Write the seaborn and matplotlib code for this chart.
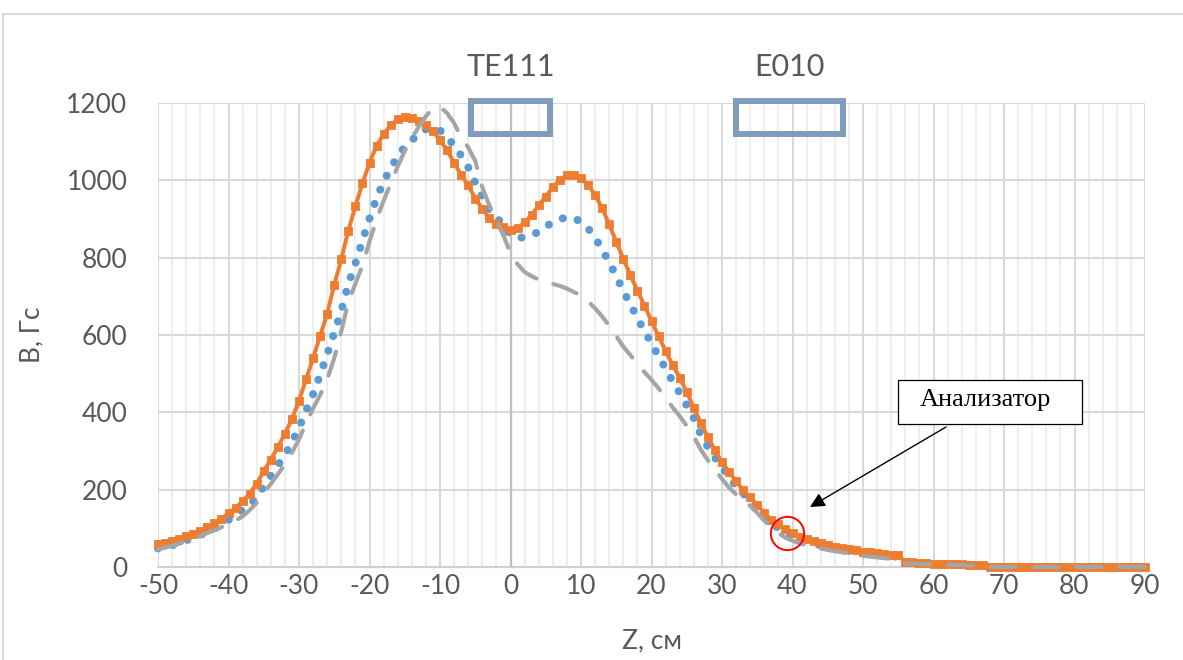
import matplotlib
matplotlib.use("Agg")
import matplotlib.pyplot as plt
import seaborn as sns
import pandas as pd
from matplotlib.patches import Rectangle

# ---------------- data ----------------
z_cm = list(range(-50, 91))

orange_vals = [
    59, 63, 68, 73, 79, 86, 94, 103, 113, 125,
    139, 153, 170, 190, 215, 248, 278, 310, 345, 383,
    430, 485, 540, 598, 655, 730, 796, 870, 933, 992,
    1046, 1089, 1119, 1143, 1158, 1164, 1161, 1154, 1143, 1127,
    1104, 1078, 1046, 1014, 987, 953, 926, 902, 886, 879,
    871, 877, 891, 911, 935, 958, 982, 1002, 1013, 1014,
    1005, 988, 962, 928, 886, 841, 797, 755, 715, 676,
    636, 597, 559, 522, 490, 452, 412, 372, 336, 302,
    271, 246, 222, 198, 180, 160, 140, 122, 110, 97,
    87, 78, 72, 66, 61, 57, 53, 50, 46, 43,
    40, 38, 36, 34, 32, 30,
    13, 12, 11, 10, 9, 8, 8, 7, 7, 6, 6, 5,
] + [0] * 23

blue_vals = [
    48, 51, 56, 62, 69, 76, 83, 90, 99, 110,
    122, 135, 148, 160, 180, 209, 236, 263, 290, 322,
    360, 405, 447, 497, 550, 606, 662, 732, 785, 844,
    901, 954, 996, 1032, 1062, 1087, 1104, 1120, 1132, 1134,
    1129, 1112, 1090, 1064, 1034, 994, 957, 922, 902, 888,
    857, 852, 852, 858, 867, 880, 892, 900, 904, 902,
    893, 876, 851, 822, 787, 753, 713, 680, 643, 611,
    578, 545, 513, 480, 450, 418, 385, 342, 310, 283,
    258, 233, 208, 190, 172, 150, 128, 112, 101, 90,
    81, 74, 67, 61, 56, 52, 48, 45, 42, 39,
    36, 34, 32, 30, 28, 26,
    11, 10, 9, 9, 8, 7, 7, 6, 6, 5, 5, 4,
] + [0] * 23

gray_vals = [
    46, 50, 55, 60, 67, 73, 80, 88, 95, 103,
    111, 120, 131, 147, 166, 192, 215, 240, 265, 296,
    330, 372, 410, 445, 485, 540, 610, 685, 733, 780,
    842, 899, 947, 992, 1036, 1076, 1108, 1139, 1166, 1186,
    1190, 1174, 1148, 1112, 1085, 1050, 982, 935, 895, 858,
    811, 783, 763, 752, 743, 737, 732, 727, 720, 711,
    702, 687, 669, 648, 624, 597, 570, 548, 525, 504,
    484, 462, 438, 413, 390, 365, 338, 303, 276, 251,
    228, 205, 188, 172, 158, 140, 120, 103, 88, 76,
    68, 62, 56, 52, 48, 44, 41, 38, 35, 32,
    29, 27, 25, 23, 21, 19,
    9, 8, 8, 7, 7, 6, 6, 5, 5, 4, 4, 4,
] + [0] * 23

x_ticks = list(range(-50, 91, 10))
y_ticks = list(range(0, 1201, 200))

# mode boxes (labels, z-ranges)
mode_labels = ["TE111", "E010"]
mode_z0 = [-5.56, 32.0]
mode_z1 = [5.56, 47.2]
mode_b0, mode_b1 = 1120, 1206

analyzer_label = "Анализатор"
analyzer_z, analyzer_b = 39.26, 87

df = pd.DataFrame({"z": z_cm, "orange": orange_vals, "blue": blue_vals, "gray": gray_vals})

# ---------------- style ----------------
sns.set_theme(style="white")
plt.rcParams["font.family"] = ["Lato", "DejaVu Sans"]
plt.rcParams["axes.unicode_minus"] = False

W, H = 1183, 660
fig = plt.figure(figsize=(W / 100, H / 100), dpi=100)
ax = fig.add_axes([158 / W, 1 - 567 / H, (1145 - 158) / W, (567 - 103) / H])

txt_col = "#595959"

# grid
for v in range(-50, 91, 2):
    if v % 10 != 0:
        ax.axvline(v, color="#EDEDED", lw=1.3, zorder=0)
for v in x_ticks:
    ax.axvline(v, color="#D9D9D9", lw=1.5, zorder=0.5)
for v in y_ticks[1:]:
    ax.axhline(v, color="#D9D9D9", lw=1.5, zorder=0.5)
ax.axhline(0, color="#D0D0D0", lw=1.6, zorder=0.6, clip_on=False)
ax.axvline(0, color="#BFBFBF", lw=1.6, zorder=0.6)

# series
sns.lineplot(data=df, x="z", y="blue", ax=ax, color="#5B9BD5", zorder=2)
ln_blue = ax.lines[-1]
sns.lineplot(data=df, x="z", y="orange", ax=ax, color="#ED7D31", marker="s", zorder=3)
ln_orange = ax.lines[-1]
sns.lineplot(data=df, x="z", y="gray", ax=ax, color="#A5A5A5", zorder=4)
ln_gray = ax.lines[-1]

ln_blue.set_linewidth(5.8)
ln_blue.set_linestyle((0, (0.01, 1.9)))
ln_blue.set_dash_capstyle("round")
ln_orange.set_linewidth(2.9)
ln_orange.set_markersize(6)
ln_orange.set_markeredgewidth(0.6)
ln_orange.set_markeredgecolor("#ED7D31")
ln_gray.set_linewidth(3.0)
ln_gray.set_linestyle((0, (6.0, 4.3)))
ln_gray.set_dash_capstyle("round")
for ln in (ln_blue, ln_orange, ln_gray):
    ln.set_clip_on(False)

ax.set_xlim(-50, 90)
ax.set_ylim(0, 1200)
ax.set_xticks(x_ticks)
ax.set_yticks(y_ticks)
ax.tick_params(axis="both", length=0, labelsize=19, colors=txt_col)
ax.tick_params(axis="x", pad=5)
ax.tick_params(axis="y", pad=22)
for s in ax.spines.values():
    s.set_visible(False)
ax.grid(False)

ax.set_xlabel("Z, см", fontsize=19, color=txt_col, labelpad=21)
ax.set_ylabel("B, Гс", fontsize=19, color=txt_col, labelpad=16)

# mode boxes with labels
for lab, a, b in zip(mode_labels, mode_z0, mode_z1):
    ax.add_patch(Rectangle((a, mode_b0), b - a, mode_b1 - mode_b0, fill=False,
                           edgecolor="#7F9CBB", lw=4.3, clip_on=False, zorder=5))
    ax.text((a + b) / 2, 1293, lab, ha="center", va="center", fontsize=22,
            color=txt_col, clip_on=False)

# analyzer circle + annotation
ax.plot([analyzer_z], [analyzer_b], marker="o", markersize=24, markerfacecolor="none",
        markeredgecolor="red", markeredgewidth=1.4, zorder=6, clip_on=False)
ax.annotate("", xy=(810, H - 507), xycoords="figure pixels",
            xytext=(946, H - 427), textcoords="figure pixels",
            arrowprops=dict(arrowstyle="-|>", color="black", lw=1.0, mutation_scale=22,
                            shrinkA=0, shrinkB=0))
fig.patches.append(Rectangle((898 / W, 1 - 424 / H), (1082 - 898) / W, 44 / H,
                             transform=fig.transFigure, fc="white", ec="black", lw=0.9,
                             zorder=7))
fig.text(985 / W, 1 - 400 / H, analyzer_label, ha="center", va="center", fontsize=19,
         family="Liberation Serif", color="black", zorder=8)

# outer chart border
fig.patches.append(Rectangle((3 / W, -0.1), 1.2, 1 - 14 / H + 0.1, transform=fig.transFigure,
                             fill=False, edgecolor="#D9D9D9", lw=1.5))

fig.savefig("out.png", dpi=100)
